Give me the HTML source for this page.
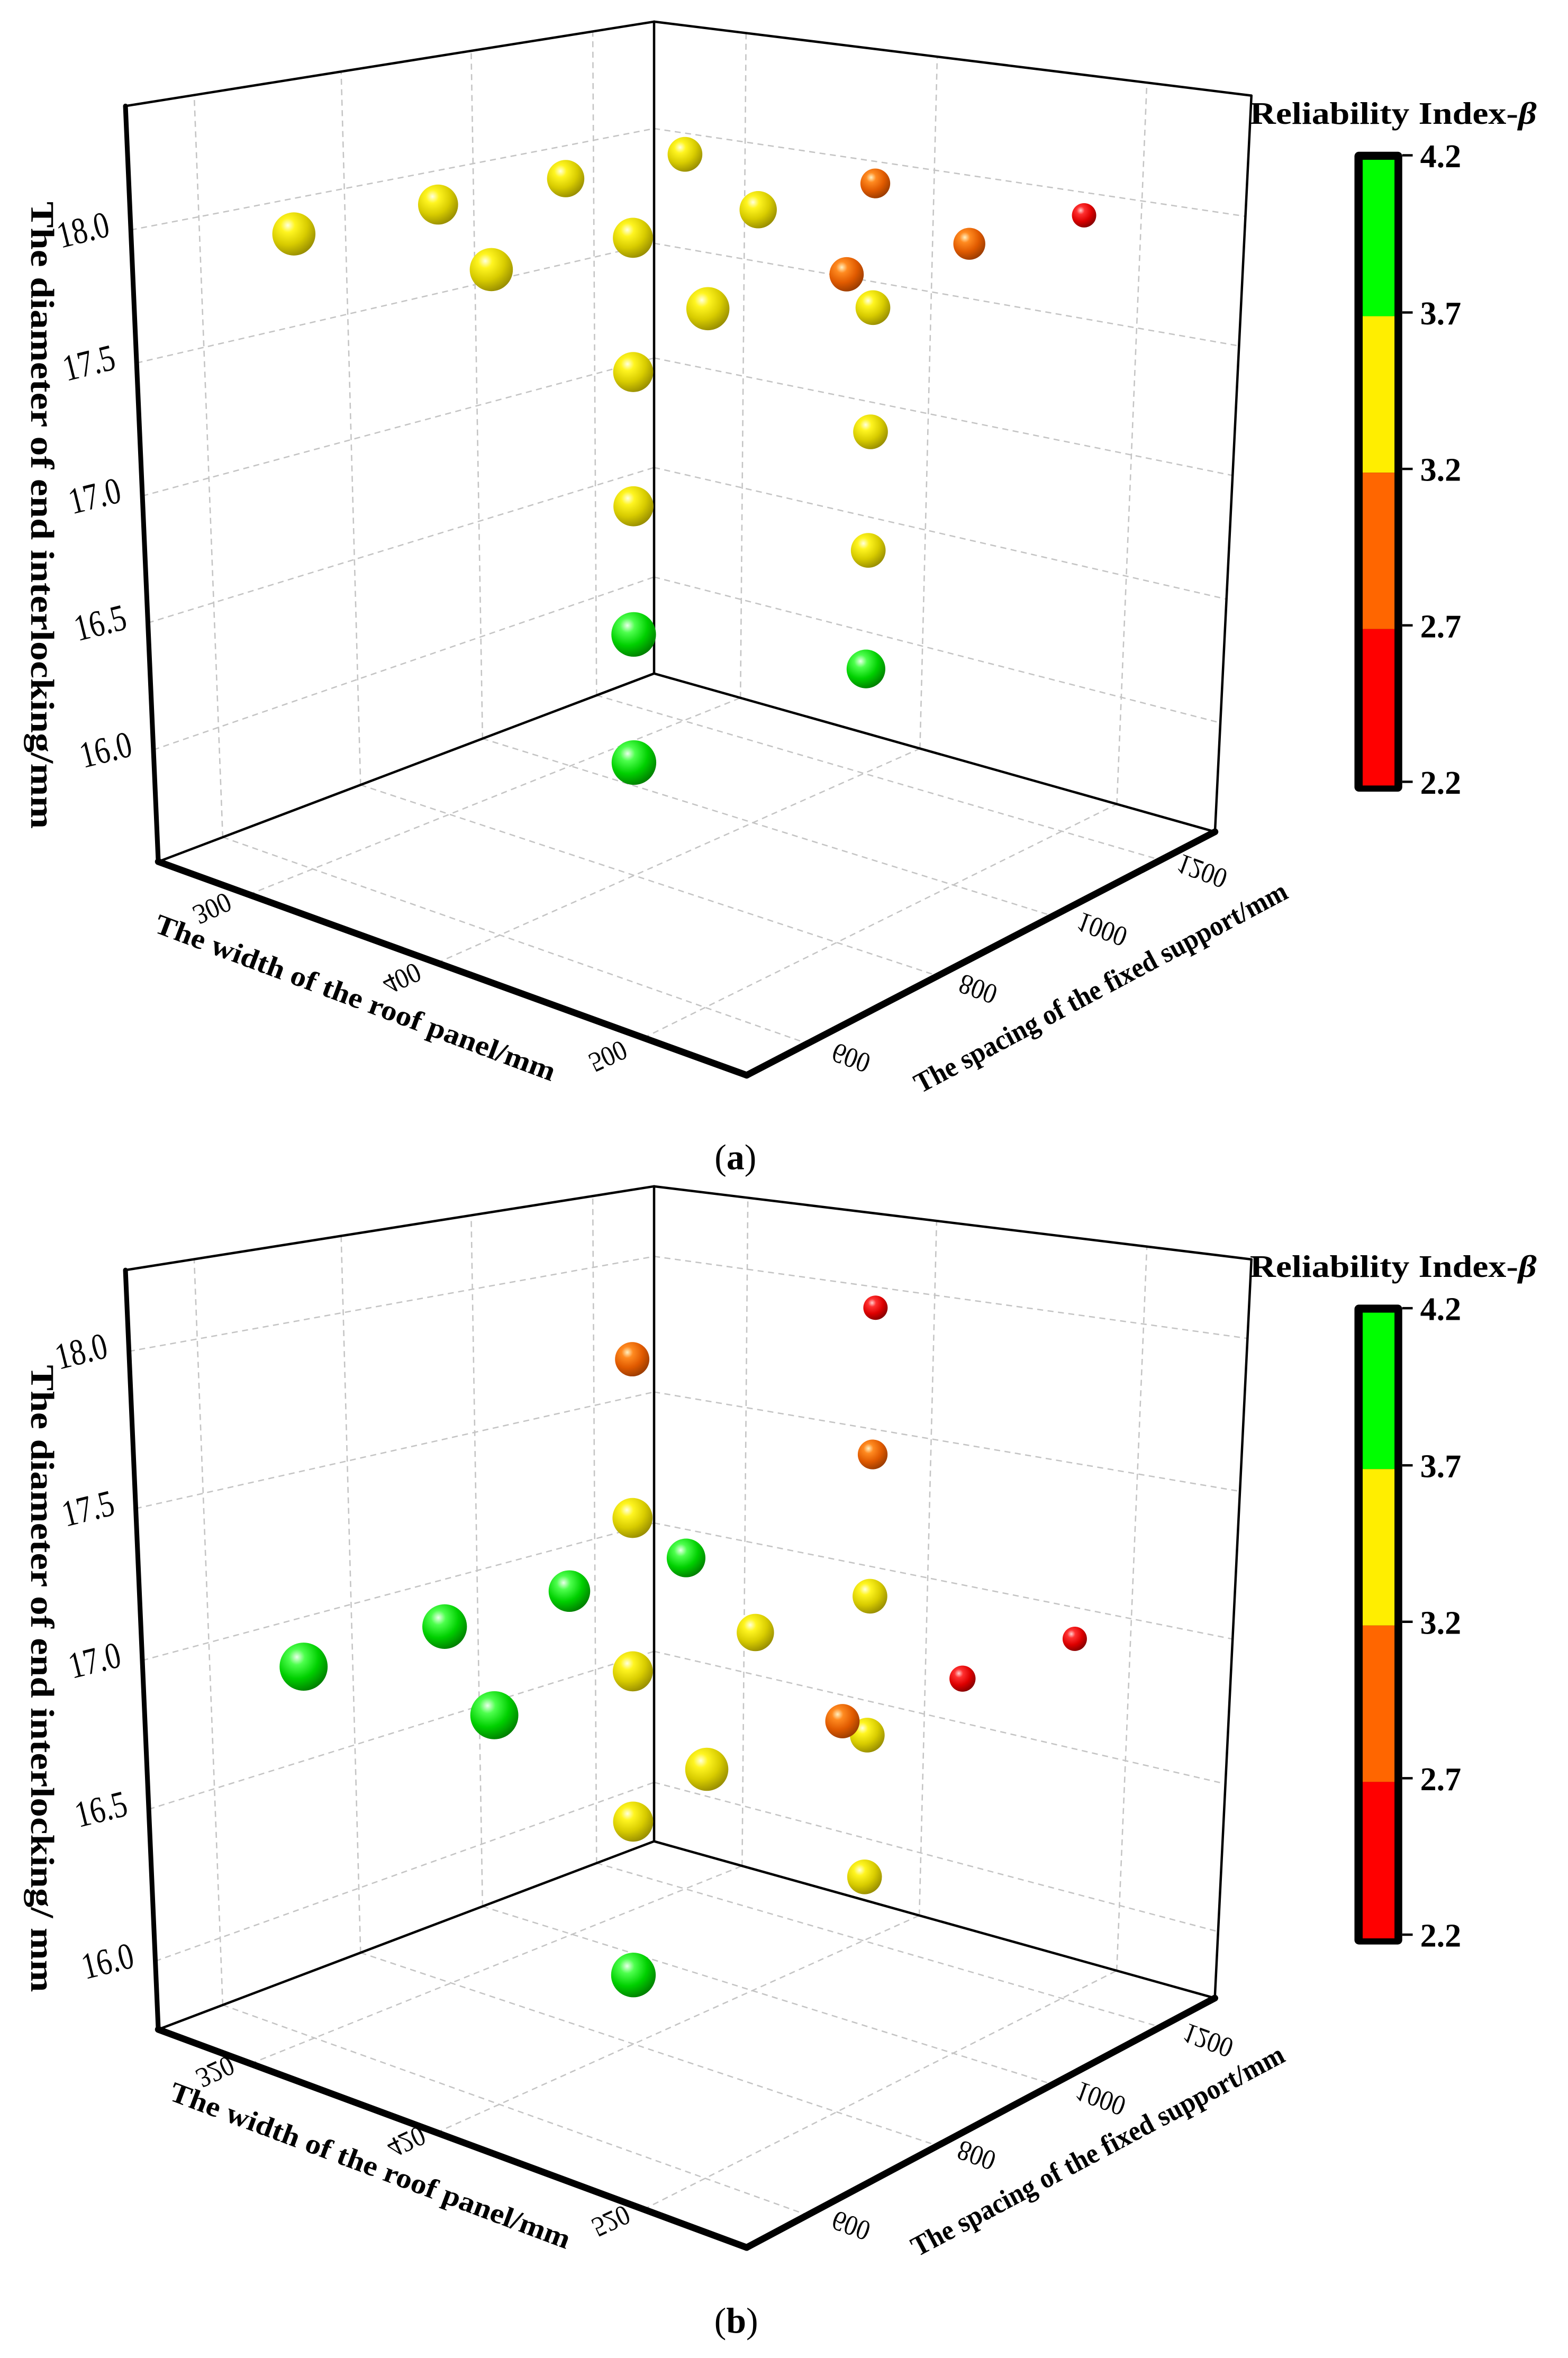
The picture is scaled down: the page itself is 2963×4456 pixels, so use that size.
<!DOCTYPE html>
<html><head><meta charset="utf-8"><title>Reliability index 3D scatter</title>
<style>html,body{margin:0;padding:0;background:#fff}svg{display:block}</style></head>
<body>
<svg id="fig" xmlns="http://www.w3.org/2000/svg" width="2963" height="4456" viewBox="0 0 1050 1579" preserveAspectRatio="none" font-family="'Liberation Serif', serif">
<defs>
<radialGradient id="g-green" cx="0.36" cy="0.3" r="0.75"><stop offset="0" stop-color="#eaffea"/><stop offset="0.22" stop-color="#4dff4d"/><stop offset="0.6" stop-color="#00d000"/><stop offset="1" stop-color="#007a00"/></radialGradient>
<radialGradient id="g-yellow" cx="0.36" cy="0.3" r="0.75"><stop offset="0" stop-color="#ffffe0"/><stop offset="0.22" stop-color="#fff520"/><stop offset="0.6" stop-color="#d8cc00"/><stop offset="1" stop-color="#948a00"/></radialGradient>
<radialGradient id="g-orange" cx="0.36" cy="0.3" r="0.75"><stop offset="0" stop-color="#fff0c0"/><stop offset="0.22" stop-color="#ff8a20"/><stop offset="0.6" stop-color="#e05a00"/><stop offset="1" stop-color="#963a00"/></radialGradient>
<radialGradient id="g-red" cx="0.36" cy="0.3" r="0.75"><stop offset="0" stop-color="#ffd0d0"/><stop offset="0.22" stop-color="#ff3030"/><stop offset="0.6" stop-color="#dd0000"/><stop offset="1" stop-color="#800000"/></radialGradient>
</defs>
<g id="panel-a"></g>
<g id="panel-b"></g>
</svg>
<script>
// ---- data: panel (a) ----
const widthA    = [300,300,300,300, 400,400,400,400, 500,500,500,500, 400,400,400,400, 400,400,400,400];
const spacingA  = [600,800,1000,1200, 600,800,1000,1200, 600,800,1000,1200, 800,800,800,800, 1200,1200,1200,1200];
const diameterA = [18,18,18,18, 18,18,18,18, 18,18,18,18, 17.5,17,16.5,16, 17.5,17,16.5,16];
const betaA     = [3.45,3.45,3.45,3.45, 3.45,3.45,3.45,2.95, 3.45,2.95,2.95,2.4, 3.45,3.45,3.85,3.85, 3.45,3.45,3.45,3.85];
// ---- data: panel (b) ----
const widthB    = [320,320,320,320, 420,420,420,420, 520,520,520,520, 420,420,420,420, 420,420,420,420];
const spacingB  = [600,800,1000,1200, 600,800,1000,1200, 600,800,1000,1200, 800,800,800,800, 1200,1200,1200,1200];
const diameterB = [17,17,17,17, 17,17,17,17, 17,17,17,17, 18,17.5,16.5,16, 18,17.5,16.5,16];
const betaB     = [3.85,3.85,3.85,3.85, 3.85,3.45,3.45,3.45, 3.45,2.95,2.4,2.4, 2.95,3.45,3.45,3.85, 2.4,2.95,3.45,3.45];
// ---- tick labels ----
const widthTicksA = [300,400,500];
const widthTicksB = [320,420,520];
const spacingTicks = [600,800,1000,1200];
const diameterTicks = [16.0,16.5,17.0,17.5,18.0];
const betaTicks = [4.2,3.7,3.2,2.7,2.2];

const NS = 'http://www.w3.org/2000/svg';
function mk(tag, attrs, parent){ const e=document.createElementNS(NS,tag); for(const k in attrs) e.setAttribute(k,attrs[k]); parent.appendChild(e); return e; }
function interp(vals, fr, x){
  let i=0; while(i<vals.length-2 && x>vals[i+1]) i++;
  return fr[i] + (x-vals[i])*(fr[i+1]-fr[i])/(vals[i+1]-vals[i]);
}
function bil(C,u,v){ return [
  (1-u)*(1-v)*C[0][0]+u*(1-v)*C[1][0]+u*v*C[2][0]+(1-u)*v*C[3][0],
  (1-u)*(1-v)*C[0][1]+u*(1-v)*C[1][1]+u*v*C[2][1]+(1-u)*v*C[3][1]]; }
function proj(G,u,v,w){ const b=bil(G.B,u,v), t=bil(G.T,u,v); return [b[0]+(t[0]-b[0])*w, b[1]+(t[1]-b[1])*w]; }
function colorOf(b){ return b>=3.7?'green':(b>=3.2?'yellow':(b>=2.7?'orange':'red')); }

const panels = [
 { g:'panel-a', dy:0, widths:widthA, spacings:spacingA, diams:diameterA, betas:betaA, wTicks:widthTicksA,
   B:[[106,577],[500,720],[813.6,557],[438,451]], T:[[84,71],[504,135],[838,64],[438,14.5]],
   uFr:[0.154,0.474,0.825], vFr:[0.13,0.408,0.654,0.884], wFr:[0.148,0.316,0.484,0.660,0.836],
   wLab:[[142,608],[269,655],[407,707]], sLab:[[570,708],[655,662],[738,622],[805,583]],
   wTitle:[238,668], sTitle:[737,661], zTitle:[28,345], cap:[492.5,783], capText:'a' },
 { g:'panel-b', dy:772, widths:widthB, spacings:spacingB, diams:diameterB, betas:betaB, wTicks:widthTicksB,
   B:[[106,1359],[500,1505],[813.5,1338],[438,1233]], T:[[84,850.5],[504,915.5],[838,843.3],[438,794.4]],
   uFr:[0.157,0.473,0.825], vFr:[0.13,0.408,0.654,0.884], wFr:[0.09,0.29,0.486,0.686,0.893],
   wLab:[[144,1387],[272,1434],[409,1487]], sLab:[[570,1490],[654,1443],[737,1405],[809,1366]],
   wTitle:[248,1450], sTitle:[735,1440], zTitle:[28,1124], cap:[493,1562], capText:'b' }
];

panels.forEach(P=>{
  const root=document.getElementById(P.g);
  const U=x=>interp(P.wTicks,P.uFr,x), V=x=>interp(spacingTicks,P.vFr,x), W=x=>interp(diameterTicks,P.wFr,x);
  const grid=mk('g',{},root);
  
  
  const dl=(a,b)=>{ const l=mk('line',{x1:a[0],y1:a[1],x2:b[0],y2:b[1],stroke:'#c4c4c4','stroke-width':0.9,'stroke-dasharray':'4 3'},grid);
      };
  P.wTicks.forEach(t=>{ const u=U(t); dl(proj(P,u,0,0),proj(P,u,1,0)); dl(proj(P,u,1,0),proj(P,u,1,1)); });
  spacingTicks.forEach(t=>{ const v=V(t); dl(proj(P,0,v,0),proj(P,1,v,0)); dl(proj(P,0,v,0),proj(P,0,v,1)); });
  diameterTicks.forEach(t=>{ const w=W(t); dl(proj(P,0,0,w),proj(P,0,1,w)); dl(proj(P,0,1,w),proj(P,1,1,w)); });

  const box=mk('g',{fill:'none',stroke:'#000','stroke-linecap':'round'},root);
  
  
  const B=P.B,T=P.T;
  const sl=(a,b,w,n)=>{ const l=mk('line',{x1:a[0],y1:a[1],x2:b[0],y2:b[1],'stroke-width':w},box);
      };
  sl(T[0],T[3],1.6,'top-edge'); sl(T[3],T[2],1.6,'top-edge'); sl(B[3],T[3],1.6,'back-edge');
  sl(B[2],T[2],1.6,'right-edge'); sl(B[0],B[3],1.6,'floor-back-edge'); sl(B[3],B[2],1.6,'floor-back-edge');
  sl(B[0],T[0],3.2,'z-axis-line'); sl(B[0],B[1],4.5,'width-axis-line'); sl(B[1],B[2],4.5,'spacing-axis-line');

  // z tick labels
  diameterTicks.forEach(t=>{ const p=proj(P,0,0,W(t));
    const tx=mk('text',{transform:`translate(${p[0]-30},${p[1]+8}) rotate(-14) scale(0.8,1)`,'font-size':25,'text-anchor':'middle'},root);
    tx.textContent=t.toFixed(1);
      });
  P.wTicks.forEach((t,i)=>{ const c=P.wLab[i];
    const tx=mk('text',{transform:`translate(${c[0]},${c[1]}) rotate(-25) scale(0.9,-1)`,'font-size':19,'text-anchor':'middle','dominant-baseline':'central'},root);
    tx.textContent=t;
      });
  spacingTicks.forEach((t,i)=>{ const c=P.sLab[i];
    const tx=mk('text',{transform:`translate(${c[0]},${c[1]}) rotate(20) scale(0.9,-1)`,'font-size':19,'text-anchor':'middle','dominant-baseline':'central'},root);
    tx.textContent=t;
      });

  let t1=mk('text',{transform:`translate(${P.wTitle[0]},${P.wTitle[1]}) rotate(20.6)`,'font-size':19,'font-weight':'bold','text-anchor':'middle','dominant-baseline':'central',textLength:285,lengthAdjust:'spacingAndGlyphs'},root);
  t1.textContent='The width of the roof panel/mm';
   
  let t2=mk('text',{transform:`translate(${P.sTitle[0]},${P.sTitle[1]}) rotate(-28)`,'font-size':19,'font-weight':'bold','text-anchor':'middle','dominant-baseline':'central',textLength:280,lengthAdjust:'spacingAndGlyphs'},root);
  t2.textContent='The spacing of the fixed support/mm';
   
  let t3=mk('text',{transform:`translate(${P.zTitle[0]},${P.zTitle[1]}) rotate(90)`,'font-size':22,'font-weight':'bold','text-anchor':'middle','dominant-baseline':'central',textLength:420,lengthAdjust:'spacingAndGlyphs'},root);
  t3.textContent=(P.g==='panel-a')?'The diameter of end interlocking/mm':'The diameter of end interlocking/ mm';
   

  let cap=mk('text',{x:P.cap[0],y:P.cap[1],'font-size':24,'text-anchor':'middle'},root);
  cap.innerHTML='(<tspan font-weight="bold">'+P.capText+'</tspan>)';
   

  // spheres
  const pts=P.widths.map((wd,i)=>{ const u=U(wd), v=V(P.spacings[i]), w=W(P.diams[i]);
    return {u,v,w,b:P.betas[i],p:proj(P,u,v,w)}; });
  pts.sort((a,b)=>(a.u-a.v)-(b.u-b.v));
  const sg=mk('g',{},root);
  
  
  pts.forEach(d=>{ const r=(16-4*d.v)*(0.6+0.4*(d.b-2.2)/1.5);
    const c=mk('circle',{cx:d.p[0],cy:d.p[1],r:r,fill:'url(#g-'+colorOf(d.b)+')'},sg);
      });

  // colorbar
  const cb=mk('g',{transform:`translate(0,${P.dy})`},root);
  
  
  const y0=107, y1=526, bmax=betaTicks[0], bmin=betaTicks[betaTicks.length-1];
  const Y=b=>y0+(bmax-b)*(y1-y0)/(bmax-bmin);
  let ttl=mk('text',{x:837,y:83,'font-size':21,'font-weight':'bold',textLength:192,lengthAdjust:'spacingAndGlyphs'},cb);
  ttl.innerHTML='Reliability Index-<tspan font-style="italic">β</tspan>';
   
  mk('rect',{x:907,y:101.6,width:32,height:428.5,rx:3,fill:'#000'},cb);
  const bandColors=['#00ff00','#ffee00','#ff6600','#ff0000'];
  for(let i=0;i<betaTicks.length-1;i++){
    const r=mk('rect',{x:912.5,y:Y(betaTicks[i]),width:21.3,height:Y(betaTicks[i+1])-Y(betaTicks[i]),fill:bandColors[i]},cb);
     
  }
  betaTicks.forEach(t=>{ const y=Y(t)-2.5+ (t===bmax?-0.5:0);
    mk('line',{x1:939,y1:y,x2:946,y2:y,stroke:'#000','stroke-width':1.6},cb);
    const tx=mk('text',{x:951,y:y+8,'font-size':22,'font-weight':'bold'},cb);
    tx.textContent=t.toFixed(1);
      });
});
</script>
</body></html>
